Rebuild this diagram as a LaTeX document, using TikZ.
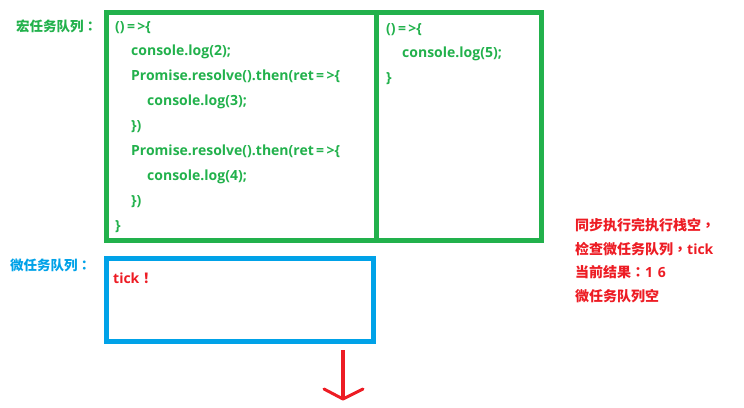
\documentclass[tikz,border=0pt]{standalone}
\usepackage{fontspec}
\setmainfont{Noto Sans CJK SC}
\newfontfamily\lat{Open Sans}[BoldFont={Open Sans Bold}]
\newfontfamily\cjkp{Noto Sans CJK TC}
\definecolor{pgreen}{HTML}{22B14C}
\definecolor{pblue}{HTML}{00A2E8}
\definecolor{pred}{HTML}{ED1C24}
\newcommand{\pcolon}{{\cjkp ：}}
\newcommand{\pcomma}{{\cjkp ，}}
\newcommand{\arr}{\,=\,>}
\begin{document}
\begin{tikzpicture}[x=1pt,y=-1pt,
  codetext/.style={anchor=base west,inner sep=0pt,text=pgreen,font=\fontsize{14}{16}\selectfont\lat\bfseries},
  redtext/.style={anchor=base west,inner sep=0pt,text=pred,font=\fontsize{14}{16}\selectfont\bfseries},
  qlabel/.style={anchor=base west,inner sep=0pt,font=\fontsize{13.5}{16}\selectfont\bfseries},
  gbox/.style={draw=pgreen,line width=5pt},
  bbox/.style={draw=pblue,line width=5pt}]
\useasboundingbox (0,0) rectangle (744,407);
% macro task queue
\node[qlabel,text=pgreen] (mlabel) at (16,31) {宏任务队列\pcolon};
\draw[gbox] (106.5,12.5) rectangle (541.5,240);
\draw[gbox] (376,12.5) -- (376,240);
\node[codetext] (a1) at (115,31) {()\arr\{};
\node[codetext] (a2) at (131,55.9) {console.log(2);};
\node[codetext] (a3) at (131,80.8) {Promise.resolve().then(ret\arr\{};
\node[codetext] (a4) at (147,105.7) {console.log(3);};
\node[codetext] (a5) at (131,130.6) {\})};
\node[codetext] (a6) at (131,155.5) {Promise.resolve().then(ret\arr\{};
\node[codetext] (a7) at (147,180.4) {console.log(4);};
\node[codetext] (a8) at (131,205.3) {\})};
\node[codetext] (a9) at (115,230.2) {\}};
\node[codetext] (b1) at (386,33) {()\arr\{};
\node[codetext] (b2) at (402,57.5) {console.log(5);};
\node[codetext] (b3) at (386,82) {\}};
% micro task queue
\node[qlabel,text=pblue] (ulabel) at (10,270) {微任务队列\pcolon};
\draw[bbox] (106,258.5) rectangle (373.5,341.5);
\node[redtext] (tick) at (113,283) {{\lat\bfseries tick}{\cjkp ！}};
% note
\node[redtext] (n1) at (575,230) {同步执行完执行栈空\pcomma};
\node[redtext] (n2) at (575,254) {检查微任务队列\pcomma{\lat\bfseries tick}};
\node[redtext] (n3) at (575,277.5) {当前结果\pcolon{\lat\bfseries 1\,\,6}};
\node[redtext] (n4) at (575,301) {微任务队列空};
% arrow
\coordinate (atop) at (343,350);
\coordinate (abot) at (343,399);
\coordinate (awl) at (324,389);
\coordinate (awr) at (363,389);
\draw[pred,line width=4.5pt] (atop) -- (abot);
\draw[pred,line width=3pt,line join=round,line cap=round] (awl) -- (abot) -- (awr);
\end{tikzpicture}
\end{document}
